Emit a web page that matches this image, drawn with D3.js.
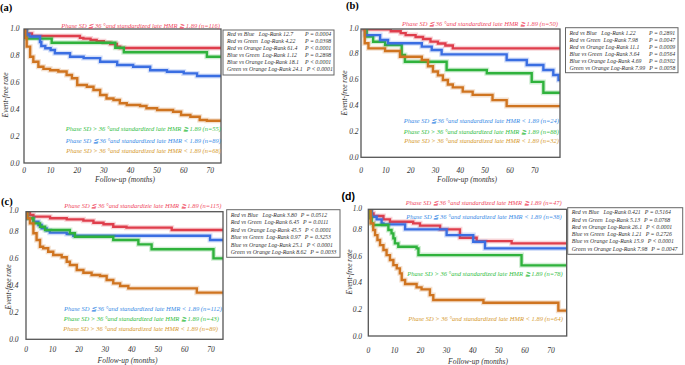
<!DOCTYPE html>
<html>
<head>
<meta charset="utf-8">
<script src="https://cdn.jsdelivr.net/npm/d3@7"></script>
<style>
  body { margin: 0; background: #fff; }
</style>
</head>
<body>
<script>
// Kaplan-Meier steps: [month, event-free rate]
const aRed = [[0,1],[1,0.964],[3,0.944],[21,0.93],[22.3,0.925],[25,0.915],[27.3,0.905],[30,0.895],[32.4,0.885],[34.9,0.865],[36.1,0.855]];
const aGreen = [[0,1],[1,0.925],[10.4,0.894],[34.3,0.857],[37.5,0.823],[68.7,0.79]];
const aBlue = [[0,1],[1,0.955],[2,0.94],[6,0.9],[6.5,0.87],[8,0.853],[10,0.84],[11.6,0.816],[17.3,0.79],[22.4,0.78],[28.6,0.753],[35,0.729],[41,0.716],[47.4,0.69],[53.7,0.679],[60,0.666],[65,0.647]];
const aOrange = [[0,1],[0.5,0.93],[1,0.865],[2.3,0.79],[3.5,0.753],[5.4,0.716],[7.3,0.7],[9.8,0.69],[12.9,0.68],[16,0.654],[18,0.63],[20,0.58],[23.6,0.567],[26.1,0.543],[28.6,0.506],[31,0.48],[33.6,0.468],[36,0.444],[38.6,0.431],[43.6,0.424],[46,0.407],[50,0.394],[56,0.381],[59,0.357],[62.5,0.344],[66,0.32],[68.7,0.314]];

const bRed = [[0,1],[1,0.985],[12,0.97],[16,0.955],[18,0.94],[22,0.925],[25,0.91],[28,0.89],[31,0.875],[34,0.86],[37,0.838]];
const bBlue = [[0,1],[1.6,0.94],[7.7,0.902],[10.9,0.877],[24.5,0.851],[28.5,0.825],[32.5,0.792],[58.7,0.748],[66.8,0.71],[73.5,0.672],[77.5,0.633],[79.6,0.595]];
const bGreen = [[0,1],[2.3,0.928],[4.9,0.889],[9.7,0.864],[16.4,0.787],[17.7,0.735],[34.5,0.672],[50.7,0.646],[68.8,0.58],[73.5,0.497]];
const bOrange = [[0,1],[1.5,0.877],[3,0.838],[9.7,0.818],[15.7,0.774],[24.5,0.748],[27,0.7],[29,0.66],[31,0.63],[33,0.595],[35,0.56],[37,0.538],[41,0.505],[45,0.48],[53,0.44],[58.7,0.394]];

const cRed = [[0,1],[0.5,0.95],[1.5,0.924],[2.8,0.912],[9.1,0.9],[15.4,0.892],[21.7,0.882],[25.5,0.867],[29.3,0.855],[33,0.837],[38,0.83],[55.1,0.813]];
const cBlue = [[0,1],[0.5,0.9],[2.8,0.874],[4.7,0.85],[5.9,0.825],[7.8,0.808],[9,0.793],[15.4,0.783],[17.9,0.77],[69.6,0.738]];
const cGreen = [[0,1],[0.5,0.9],[2.8,0.862],[5.3,0.837],[7.2,0.813],[16.6,0.788],[18.5,0.763],[33,0.738],[42.5,0.706],[47.5,0.669],[70.9,0.602]];
const cOrange = [[0,1],[0.5,0.9],[1.5,0.862],[2.8,0.788],[4,0.738],[5.3,0.688],[6.5,0.677],[8.4,0.651],[10.3,0.627],[13.5,0.61],[15.4,0.577],[16.6,0.552],[19.2,0.515],[21.7,0.495],[24.8,0.478],[28,0.471],[30.5,0.441],[33,0.416],[35.6,0.396],[38.7,0.379],[64.6,0.347]];

const dRed = [[0,1],[1.3,0.92],[2,0.9],[5.8,0.875],[8.3,0.857],[17.2,0.845],[19.8,0.828],[27.5,0.8],[35.1,0.737],[41.5,0.712],[54.9,0.695]];
const dBlue = [[0,1],[1.3,0.895],[3.2,0.875],[5.1,0.845],[5.8,0.8375],[14.1,0.8],[30,0.757],[40.2,0.707],[44.7,0.657]];
const dGreen = [[0,1],[0.7,0.8825],[1.3,0.845],[1.9,0.8325],[7.7,0.795],[8.9,0.77],[9.6,0.7325],[10.2,0.695],[11.5,0.67],[18.5,0.657],[19.2,0.607],[58.7,0.53]];
const dOrange = [[0,1],[0.9,0.845],[1.9,0.795],[2.6,0.757],[3.5,0.72],[4.5,0.682],[5.8,0.645],[7,0.607],[8.3,0.57],[9.6,0.532],[10.9,0.507],[12.1,0.47],[12.8,0.42],[14.1,0.39],[18.5,0.365],[20.4,0.35],[23.6,0.307],[24.9,0.27],[44.1,0.25],[72.8,0.19]];

const xTicks = [0, 10, 20, 30, 40, 50, 60, 70];
const yTicks = [0, 0.2, 0.4, 0.6, 0.8, 1.0];

// group labels
const aLabels = ["Phase SD \u2266 36 \u00b0and standardized late HMR \u2267 1.89 (n=116)", "Phase SD > 36 \u00b0and standardized late HMR \u2267 1.89 (n=55)", "Phase SD \u2266 36 \u00b0and standardized late HMR < 1.89 (n=89)", "Phase SD > 36 \u00b0and standardized late HMR < 1.89 (n=68)"];
const bLabels = ["Phase SD \u2266 36 \u00b0and standardized late HMR \u2267 1.89 (n=50)", "Phase SD \u2266 36 \u00b0and standardized late HMR < 1.89 (n=24)", "Phase SD > 36 \u00b0and standardized late HMR \u2267 1.89 (n=88)", "Phase SD > 36 \u00b0and standardized late HMR < 1.89 (n=32)"];
const cLabels = ["Phase SD \u2266 36 \u00b0and standardizie late HMR \u2267 1.89 (n=115)", "Phase SD \u2266 36 \u00b0and standardized late HMR < 1.89 (n=112)", "Phase SD > 36 \u00b0and standardized late HMR \u2267 1.89 (n=43)", "Phase SD > 36 \u00b0and standardized late HMR < 1.89 (n=89)"];
const dLabels = ["Phase SD \u2266 36 \u00b0and standardized late HMR \u2267 1.89 (n=47)", "Phase SD \u2266 36 \u00b0and standardized late HMR < 1.89 (n=38)", "Phase SD > 36 \u00b0and standardized late HMR \u2267 1.89 (n=78)", "Phase SD > 36 \u00b0and standardized late HMR < 1.89 (n=64)"];

// log-rank comparisons
const aStats = [["Red vs Blue   Log-Rank 12.7", "P = 0.0004"], ["Red vs Green  Log-Rank 4.22", "P = 0.0398"], ["Red vs Orange Log-Rank 61.4", "P < 0.0001"], ["Blue vs Green  Log-Rank 1.12", "P = 0.2898"], ["Blue vs Orange Log-Rank 18.1", "P < 0.0001"], ["Green vs Orange Log-Rank 24.1", "P < 0.0001"]];
const bStats = [["Red vs Blue   Log-Rank 1.22", "P = 0.2891"], ["Red vs Green  Log-Rank 7.98", "P = 0.0047"], ["Red vs Orange Log-Rank 11.1", "P = 0.0009"], ["Blue vs Green  Log-Rank 3.64", "P = 0.0564"], ["Blue vs Orange Log-Rank 4.69", "P = 0.0302"], ["Green vs Orange Log-Rank 7.99", "P = 0.0058"]];
const cStats = [["Red vs Blue   Log-Rank 3.80", "P = 0.0512"], ["Red vs Green  Log-Rank 6.45", "P = 0.0111"], ["Red vs Orange Log-Rank 45.5", "P < 0.0001"], ["Blue vs Green  Log-Rank 0.97", "P = 0.3253"], ["Blue vs Orange Log-Rank 25.1", "P < 0.0001"], ["Green vs Orange Log-Rank 8.62", "P = 0.0033"]];
const dStats = [["Red vs Blue   Log-Rank 0.421", "P = 0.5164"], ["Red vs Green  Log-Rank 5.13", "P = 0.0768"], ["Red vs Orange Log-Rank 26.1", "P < 0.0001"], ["Blue vs Green  Log-Rank 1.21", "P = 0.2726"], ["Blue vs Orange Log-Rank 15.9", "P < 0.0001"], ["Green vs Orange Log-Rank 7.98", "P = 0.0047"]];

// colours
const lineCol = { red: "#df3e4c", green: "#2fb23c", blue: "#3a6ee2", orange: "#cf7420" };
const textCol = { red: "#f04a62", green: "#35c046", blue: "#3a8ce6", orange: "#d69a30" };

const serif = "'Liberation Serif', 'Times New Roman', Times, serif";

const svg = d3.select("body").append("svg")
    .attr("width", 685)
    .attr("height", 365)
    .attr("font-family", serif)
    .attr("font-style", "italic");

// panel geometry (pixels)
const panels = [
  { id: "a", tag: "(a)", tagX: 0, tagY: 11, tagSans: false,
    left: 24, right: 221, boxTop: 29, yZero: 163, yOne: 28.5, xMax: 74,
    series: [[aRed, "red"], [aGreen, "green"], [aBlue, "blue"], [aOrange, "orange"]],
    labels: aLabels, labelPos: [[220, 27.5, "red"], [221, 130.5, "green"], [221, 142.5, "blue"], [221, 153, "orange"]],
    stats: aStats, sBox: [223, 30, 111, 45], sRow0: 36.3, sCol: 305,
    yLabX: 8, yLabY: 95, yTickX: 19.5, xTickY: 173, xLabX: 125, xLabY: 182 },
  { id: "b", tag: "(b)", tagX: 346, tagY: 9, tagSans: false,
    left: 361, right: 560, boxTop: 29, yZero: 157.3, yOne: 27.3, xMax: 80.2,
    series: [[bRed, "red"], [bGreen, "green"], [bBlue, "blue"], [bOrange, "orange"]],
    labels: bLabels, labelPos: [[558, 26, "red"], [559, 122.5, "blue"], [559, 134, "green"], [559, 142.8, "orange"]],
    stats: bStats, sBox: [565.5, 27.7, 112.5, 45], sRow0: 34.5, sCol: 649,
    yLabX: 347, yLabY: 93, yTickX: 358.5, xTickY: 172.5, xLabX: 467, xLabY: 182 },
  { id: "c", tag: "(c)", tagX: 1, tagY: 205, tagSans: false,
    left: 26, right: 223, boxTop: 211.7, yZero: 339.3, yOne: 204.8, xMax: 74.5,
    series: [[cRed, "red"], [cBlue, "blue"], [cGreen, "green"], [cOrange, "orange"]],
    labels: cLabels, labelPos: [[221.5, 207.5, "red"], [222, 310.8, "blue"], [219, 320.8, "green"], [218, 330.8, "orange"]],
    stats: cStats, sBox: [226.7, 209.7, 113.3, 47.6], sRow0: 217, sCol: 0,
    yLabX: 11, yLabY: 287, yTickX: 18.5, xTickY: 351.8, xLabX: 127.5, xLabY: 362.5 },
  { id: "d", tag: "(d)", tagX: 341.5, tagY: 200, tagSans: true,
    left: 368.3, right: 566.7, boxTop: 209.3, yZero: 336, yOne: 202.7, xMax: 76,
    series: [[dRed, "red"], [dBlue, "blue"], [dGreen, "green"], [dOrange, "orange"]],
    labels: dLabels, labelPos: [[561.7, 205.2, "red"], [561.7, 218.5, "blue"], [562.7, 275.8, "green"], [563, 320.8, "orange"]],
    stats: dStats, sBox: [567.7, 207.7, 115, 46.6], sRow0: 214.3, sCol: 0,
    yLabX: 352, yLabY: 272, yTickX: 362, xTickY: 353.2, xLabX: 478, xLabY: 364.2 }
];

panels.forEach(p => {
  const x = d3.scaleLinear().domain([0, p.xMax]).range([p.left, p.right]);
  const y = d3.scaleLinear().domain([0, 1]).range([p.yZero, p.yOne]);
  const g = svg.append("g").attr("class", "panel-" + p.id);

  // panel tag
  g.append("text")
    .attr("x", p.tagX).attr("y", p.tagY)
    .attr("font-style", "normal").attr("font-weight", "bold")
    .attr("font-family", p.tagSans ? "'Liberation Sans', Arial, sans-serif" : serif)
    .attr("font-size", 10.5)
    .text(p.tag);

  // clip for curves
  g.append("clipPath").attr("id", "clip-" + p.id)
    .append("rect")
    .attr("x", p.left).attr("y", p.boxTop)
    .attr("width", p.right - p.left).attr("height", p.yZero - p.boxTop + 2);

  const line = d3.line()
    .x(d => x(d[0]))
    .y(d => y(d[1]))
    .curve(d3.curveStepAfter);

  const curves = g.append("g").attr("clip-path", `url(#clip-${p.id})`);
  p.series.forEach(([data, col]) => {
    const pts = data.concat([[p.xMax, data[data.length - 1][1]]]);
    curves.append("path").datum(pts)
      .attr("d", line).attr("fill", "none")
      .attr("stroke", lineCol[col]).attr("stroke-opacity", 0.22)
      .attr("stroke-width", 5);
    curves.append("path").datum(pts)
      .attr("d", line).attr("fill", "none")
      .attr("stroke", lineCol[col]).attr("stroke-width", 2.4);
  });

  // frame
  g.append("rect")
    .attr("x", p.left).attr("y", p.boxTop)
    .attr("width", p.right - p.left).attr("height", p.yZero - p.boxTop)
    .attr("fill", "none").attr("stroke", "#555").attr("stroke-width", 1.3);

  // ticks
  g.selectAll(".ytick").data(yTicks).enter().append("text")
    .attr("x", p.yTickX)
    .attr("y", d => Math.max(y(d), p.boxTop - 1) + 2.5)
    .attr("text-anchor", "end")
    .attr("font-size", 7.5).attr("fill", "#333")
    .text(d => d3.format(".1f")(d));

  g.selectAll(".xtick").data(xTicks).enter().append("text")
    .attr("x", d => x(d))
    .attr("y", p.xTickY)
    .attr("text-anchor", "middle")
    .attr("font-size", 7.5).attr("fill", "#333")
    .text(d => d);

  g.append("text")
    .attr("transform", `translate(${p.yLabX},${p.yLabY}) rotate(-90)`)
    .attr("text-anchor", "middle")
    .attr("font-size", 7.5).attr("fill", "#333")
    .text("Event-free rate");

  g.append("text")
    .attr("x", p.xLabX).attr("y", p.xLabY)
    .attr("text-anchor", "middle")
    .attr("font-size", 7.5).attr("fill", "#333")
    .text("Follow-up (months)");

  // group labels
  p.labels.forEach((t, i) => {
    const [lx, ly, col] = p.labelPos[i];
    g.append("text")
      .attr("x", lx).attr("y", ly)
      .attr("text-anchor", "end")
      .attr("font-size", 6.5)
      .attr("fill", textCol[col])
      .text(t);
  });

  // log-rank box
  const [bx, by, bw, bh] = p.sBox;
  g.append("rect")
    .attr("x", bx).attr("y", by).attr("width", bw).attr("height", bh)
    .attr("fill", "#fff").attr("stroke", "#666").attr("stroke-width", 1);
  const rowH = (bh - 3) / 6;
  p.stats.forEach((row, i) => {
    const ty = p.sRow0 + i * rowH;
    const t1 = g.append("text")
      .attr("x", bx + 4).attr("y", ty)
      .attr("xml:space", "preserve")
      .attr("font-size", 5.8).attr("fill", "#333")
      .text(row[0]);
    const end = bx + 4 + t1.node().getComputedTextLength();
    g.append("text")
      .attr("x", Math.max(p.sCol, end + 4)).attr("y", ty)
      .attr("font-size", 5.8).attr("fill", "#333")
      .text(row[1]);
  });
});
</script>
</body>
</html>
